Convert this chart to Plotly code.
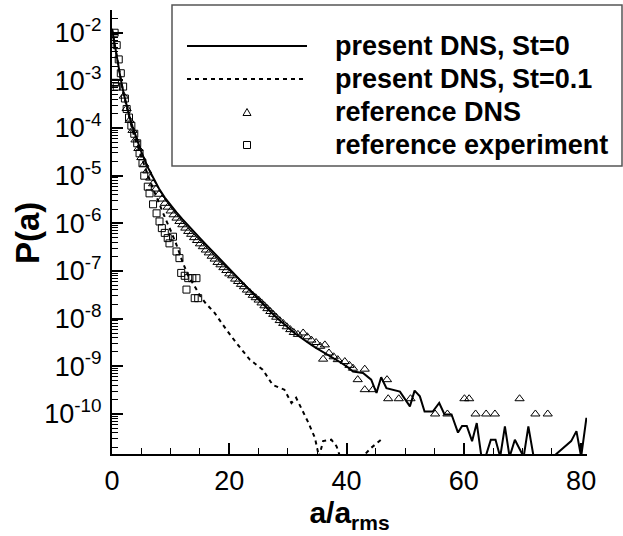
import numpy as np
import plotly.graph_objects as go

# ---------------- data ----------------
# present DNS, St=0  (solid line); values are log10 P(a)
st0_a = [0, 0.5, 1, 1.5, 2, 2.5, 3, 3.5, 4, 4.5, 5, 6, 7, 8, 9, 10, 11, 12, 13, 14, 15,
         16, 17, 18, 19, 20, 21, 22, 23, 24, 25, 26, 27, 28, 29, 30, 31, 32, 33, 34, 35,
         36, 37, 38, 39, 40, 41.1, 42.8, 44.2, 45.1, 45.9, 46.8, 48.0, 49.1, 50.8, 51.6,
         52.5, 53.3, 54.7, 55.8, 56.7, 57.9, 59.0, 59.7, 60.5, 61.4, 62.2, 63.0, 63.7,
         64.6, 65.4, 66.2, 67.0, 67.8, 68.7, 70.2, 71.0, 71.9, 75.2, 78.3, 79.2, 80.0, 80.9]
st0_log10P = [-1.92, -2.3, -2.65, -2.98, -3.28, -3.54, -3.77, -3.97, -4.15, -4.33, -4.5,
              -4.8, -5.05, -5.27, -5.46, -5.62, -5.77, -5.91, -6.05, -6.18, -6.31, -6.44,
              -6.57, -6.7, -6.83, -6.96, -7.09, -7.22, -7.35, -7.48, -7.61, -7.73, -7.85,
              -7.97, -8.08, -8.19, -8.29, -8.38, -8.47, -8.55, -8.63, -8.7, -8.77, -8.84,
              -8.92, -9.0, -9.11, -9.14, -9.28, -9.56, -9.23, -9.46, -9.5, -9.53, -9.84,
              -9.51, -9.63, -9.95, -9.95, -9.77, -10.01, -10.01, -10.39, -10.25, -10.25,
              -10.57, -10.19, -10.9, -10.9, -10.54, -10.54, -10.9, -10.26, -10.9, -10.54,
              -10.9, -10.26, -10.9, -10.9, -10.57, -10.36, -10.9, -10.08]

# present DNS, St=0.1 (dashed line)
st01_a = [0, 0.5, 1, 1.5, 2, 2.5, 3, 3.5, 4, 5, 6, 7, 8, 9, 10, 11, 12, 13, 14, 15, 16,
          17.5, 19.5, 21.2, 23.5, 25.7, 27.4, 29.4, 30.6, 31.4, 33.4, 34.6, 35.3, 36.0,
          37.4, 38.3, 38.9, 42.7, 44.2, 45.9]
st01_log10P = [-1.92, -2.3, -2.65, -2.98, -3.3, -3.57, -3.82, -4.05, -4.25, -4.62, -4.95,
               -5.27, -5.58, -5.87, -6.15, -6.45, -6.8, -7.1, -7.3, -7.52, -7.68, -7.88,
               -8.23, -8.51, -8.86, -9.07, -9.39, -9.49, -9.77, -9.66, -10.16, -10.5,
               -10.9, -10.57, -10.54, -10.68, -10.9, -10.9, -10.71, -10.54]

# reference DNS (triangles)
ref_dns_a = [2.0, 2.5, 3.0, 3.5, 4.0, 4.5, 5.0, 5.5, 6.0, 6.5, 7.0, 7.5, 8.0, 8.5, 9.0,
             9.5, 10.0, 10.5, 11.0, 11.5, 12.0, 12.5, 13.0, 13.5, 14.0, 14.5, 15.0, 15.5,
             16.0, 16.5, 17.0, 17.5, 18.0, 18.5, 19.0, 19.5, 20.0, 20.5, 21.0, 21.5, 22.0,
             22.5, 23.0, 23.5, 24.0, 24.5, 25.0, 25.5, 26.0, 26.5, 27.0, 27.5, 28.0, 28.6,
             29.2, 29.8, 30.4, 31.0, 31.7, 32.6, 33.3, 34.0, 34.8, 35.5, 36.3, 36.0, 37.0,
             37.8, 38.5, 39.7, 40.5, 41.1, 41.9, 43.1, 43.1, 44.5, 46.9, 47.1, 48.9, 50.9,
             55.1, 57.2, 60.1, 60.9, 62.0, 63.8, 65.3, 69.5, 72.2, 74.3]
ref_dns_log10P = [-3.33, -3.59, -3.84, -4.05, -4.25, -4.43, -4.62, -4.76, -4.9, -5.05,
                  -5.17, -5.28, -5.39, -5.49, -5.58, -5.66, -5.74, -5.82, -5.89, -5.96,
                  -6.03, -6.1, -6.17, -6.23, -6.3, -6.36, -6.43, -6.49, -6.56, -6.62,
                  -6.69, -6.75, -6.82, -6.87, -6.93, -6.99, -7.06, -7.1, -7.17, -7.22,
                  -7.28, -7.33, -7.4, -7.45, -7.51, -7.56, -7.61, -7.67, -7.73, -7.79,
                  -7.85, -7.91, -7.97, -8.04, -8.1, -8.17, -8.23, -8.29, -8.33, -8.3,
                  -8.38, -8.45, -8.5, -8.58, -8.55, -8.85, -8.72, -8.8, -8.86, -8.9,
                  -8.98, -9.04, -9.28, -9.06, -9.49, -9.49, -9.28, -9.68, -9.68, -9.68,
                  -10.0, -10.0, -9.68, -9.68, -10.0, -10.0, -10.0, -9.68, -10.0, -10.0]

# reference experiment (squares)
ref_exp_a = [0.45, 0.8, 1.15, 1.5, 0.5, 0.8, 1.9, 2.2, 2.5, 2.9, 3.3, 3.8, 4.3, 4.7, 5.2,
             5.5, 6.1, 6.4, 7.0, 7.6, 8.1, 8.5, 9.0, 9.5, 9.8, 10.4, 11.0, 11.5, 11.8, 12.4,
             13.0, 13.7, 14.4, 12.7, 14.1, 14.7]
ref_exp_log10P = [-2.0, -2.26, -2.56, -2.85, -3.05, -3.13, -3.13, -3.38, -3.6, -3.78,
                  -3.95, -4.12, -4.32, -4.53, -4.74, -5.0, -5.23, -5.37, -5.6, -5.79,
                  -5.96, -6.1, -6.2, -6.31, -6.42, -6.28, -6.59, -6.73, -7.04, -7.1,
                  -7.15, -7.15, -7.15, -7.39, -7.57, -7.57]

series_names = ["present DNS, St=0", "present DNS, St=0.1",
                "reference DNS", "reference experiment"]

x_major = [0, 20, 40, 60, 80]
x_minor = [5, 10, 15, 25, 30, 35, 45, 50, 55, 65, 70, 75]
y_exponents = [-2, -3, -4, -5, -6, -7, -8, -9, -10]

# ---------------- figure ----------------
FONT = "Liberation Sans, Arial, Helvetica, sans-serif"
W, H = 623, 536
ML, MR, MT, MB = 112, 36, 10, 82

def px_x(p):
    return (p - ML) / (W - ML - MR)

def px_y(p):
    return (H - MB - p) / (H - MT - MB)

fig = go.Figure()
fig.add_trace(go.Scatter(x=st0_a, y=10 ** np.array(st0_log10P), mode="lines",
                         line=dict(color="black", width=2), name=series_names[0]))
fig.add_trace(go.Scatter(x=st01_a, y=10 ** np.array(st01_log10P), mode="lines",
                         line=dict(color="black", width=2, dash="4px,4px"),
                         name=series_names[1]))
fig.add_trace(go.Scatter(x=ref_dns_a, y=10 ** np.array(ref_dns_log10P), mode="markers",
                         marker=dict(symbol="triangle-up-open", size=8, color="black",
                                     line=dict(width=1, color="black")),
                         name=series_names[2]))
fig.add_trace(go.Scatter(x=ref_exp_a, y=10 ** np.array(ref_exp_log10P), mode="markers",
                         marker=dict(symbol="square-open", size=7, color="black",
                                     line=dict(width=1, color="black")),
                         name=series_names[3]))

y_minor = [k * 10.0 ** d for d in range(-11, -1) for k in range(2, 10)
           if -10.84 <= np.log10(k * 10.0 ** d) <= -1.52]

fig.update_xaxes(
    range=[0, 81], showline=True, linecolor="black", linewidth=2, mirror=False,
    showgrid=False, zeroline=False,
    tickvals=x_major, ticktext=[str(v) for v in x_major],
    ticks="inside", ticklen=11, tickwidth=2, tickcolor="black",
    tickfont=dict(family=FONT, size=27, color="black"), ticklabelstandoff=2,
    minor=dict(tickvals=x_minor, ticks="inside", ticklen=6, tickwidth=1,
               tickcolor="black", showgrid=False),
    title=dict(text="<b>a/a<sub>rms</sub></b>", font=dict(family=FONT, size=30,
               color="black"), standoff=0),
)
fig.update_yaxes(
    type="log", range=[-10.84, -1.523], showline=True, linecolor="black", linewidth=2,
    showgrid=False, zeroline=False,
    tickvals=[10.0 ** e for e in y_exponents],
    ticktext=["10<sup>%d</sup>" % e for e in y_exponents],
    ticks="inside", ticklen=11, tickwidth=2, tickcolor="black",
    tickfont=dict(family=FONT, size=27, color="black"), ticklabelstandoff=3,
    minor=dict(tickvals=y_minor, ticks="inside", ticklen=6, tickwidth=1,
               tickcolor="black", showgrid=False),
)

# y-axis title placed explicitly
fig.add_annotation(xref="paper", yref="paper", x=px_x(27), y=px_y(233),
                   xanchor="center", yanchor="middle", textangle=-90, showarrow=False,
                   text="<b>P(a)</b>", font=dict(family=FONT, size=33, color="black"))

# ---------------- legend (drawn by hand to match the frame layout) ----------------
fig.add_shape(type="rect", xref="paper", yref="paper",
              x0=px_x(172), x1=px_x(622), y0=px_y(166), y1=px_y(5),
              line=dict(color="#555555", width=1.5), fillcolor="white", layer="below")

row_y = [46, 79, 112, 145]
sample_x0, sample_x1, sym_x, text_x = 187, 307, 247, 333

fig.add_shape(type="line", xref="paper", yref="paper",
              x0=px_x(sample_x0), x1=px_x(sample_x1), y0=px_y(row_y[0]), y1=px_y(row_y[0]),
              line=dict(color="black", width=2))
fig.add_shape(type="line", xref="paper", yref="paper",
              x0=px_x(sample_x0), x1=px_x(sample_x1), y0=px_y(row_y[1]), y1=px_y(row_y[1]),
              line=dict(color="black", width=2, dash="4px,4px"))
# triangle symbol
tx, ty = sym_x, row_y[2]
fig.add_shape(type="path", xref="paper", yref="paper",
              path="M %f,%f L %f,%f L %f,%f Z" % (px_x(tx - 4), px_y(ty + 3.5),
                                                  px_x(tx + 4), px_y(ty + 3.5),
                                                  px_x(tx), px_y(ty - 3.5)),
              line=dict(color="black", width=1))
# square symbol
sx, sy = sym_x, row_y[3]
fig.add_shape(type="rect", xref="paper", yref="paper",
              x0=px_x(sx - 3.5), x1=px_x(sx + 3.5), y0=px_y(sy + 3.5), y1=px_y(sy - 3.5),
              line=dict(color="black", width=1))

for name, yy in zip(series_names, row_y):
    fig.add_annotation(xref="paper", yref="paper", x=px_x(text_x), y=px_y(yy),
                       xanchor="left", yanchor="middle", showarrow=False,
                       text="<b>%s</b>" % name,
                       font=dict(family=FONT, size=27, color="black"))

fig.update_layout(
    width=W, height=H,
    margin=dict(l=ML, r=MR, t=MT, b=MB, autoexpand=False),
    paper_bgcolor="white", plot_bgcolor="rgba(0,0,0,0)",
    showlegend=False,
)

fig.write_html("out.html")
